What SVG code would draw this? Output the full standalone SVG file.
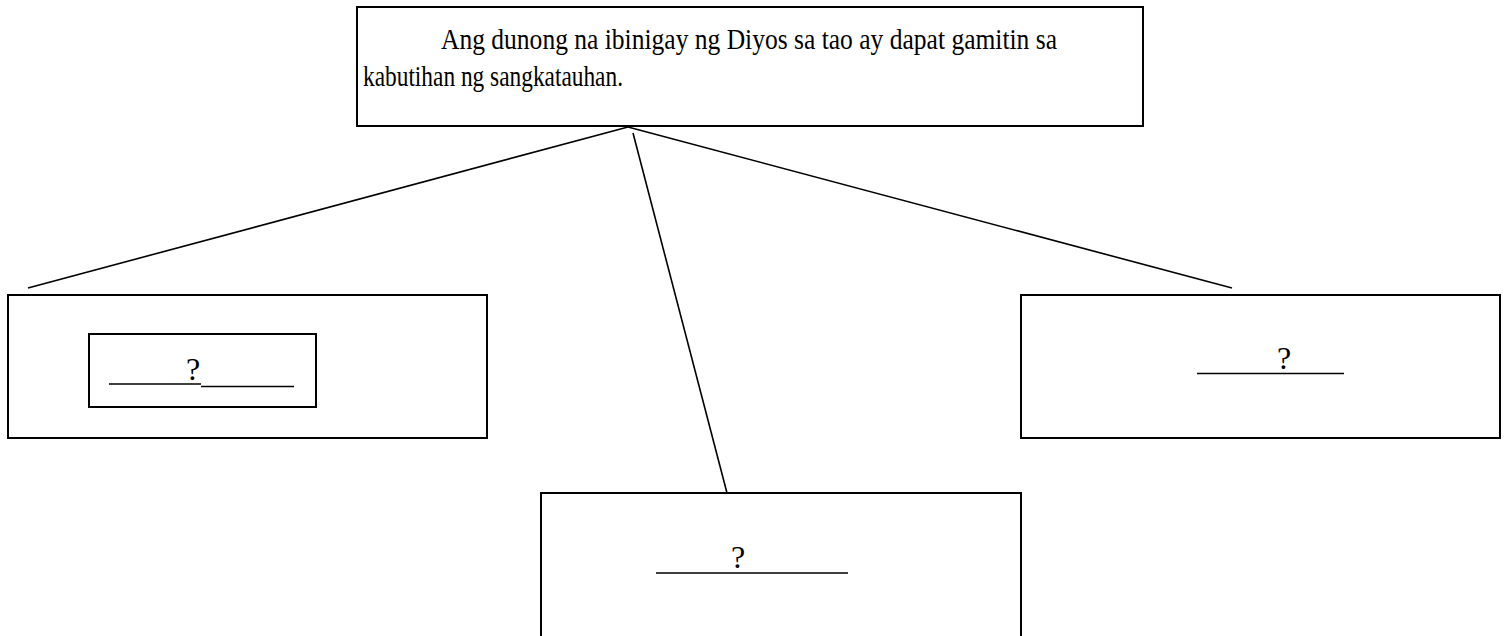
<svg xmlns="http://www.w3.org/2000/svg" width="1509" height="636" viewBox="0 0 1509 636">
<style>
.box{fill:#fff;stroke:#000;stroke-width:2}
.conn{stroke:#000;stroke-width:1.6;fill:none}
.ul{stroke:#000;stroke-width:1.6}
.t{font-family:"Liberation Serif","Times New Roman",serif;fill:#000}
</style>
<rect width="1509" height="636" fill="#fff"/>
<g id="connectors">
<line class="conn" x1="628" y1="127" x2="28" y2="288"/>
<line class="conn" x1="628" y1="127" x2="1232" y2="288"/>
<line class="conn" x1="633" y1="133" x2="727" y2="493"/>
</g>
<g id="top">
<rect class="box" x="357" y="7" width="786" height="119"/>
<text class="t" x="441" y="49" font-size="30" textLength="616" lengthAdjust="spacingAndGlyphs">Ang dunong na ibinigay ng Diyos sa tao ay dapat gamitin sa</text>
<text class="t" x="363" y="86" font-size="30" textLength="260" lengthAdjust="spacingAndGlyphs">kabutihan ng sangkatauhan.</text>
</g>
<g id="left">
<rect class="box" x="8" y="295" width="479" height="143"/>
<rect class="box" x="89" y="334" width="227" height="73"/>
<text class="t" x="193" y="380" font-size="32" text-anchor="middle">?</text>
<line class="ul" x1="109" y1="384" x2="201" y2="384"/>
<line class="ul" x1="201" y1="386.5" x2="294" y2="386.5"/>
</g>
<g id="middle">
<rect class="box" x="541" y="493" width="480" height="150"/>
<text class="t" x="738" y="568" font-size="32" text-anchor="middle">?</text>
<line class="ul" x1="656" y1="573" x2="848" y2="573"/>
</g>
<g id="right">
<rect class="box" x="1021" y="295" width="479" height="143"/>
<text class="t" x="1284" y="369" font-size="32" text-anchor="middle">?</text>
<line class="ul" x1="1197" y1="373.5" x2="1344" y2="373.5"/>
</g>
</svg>
